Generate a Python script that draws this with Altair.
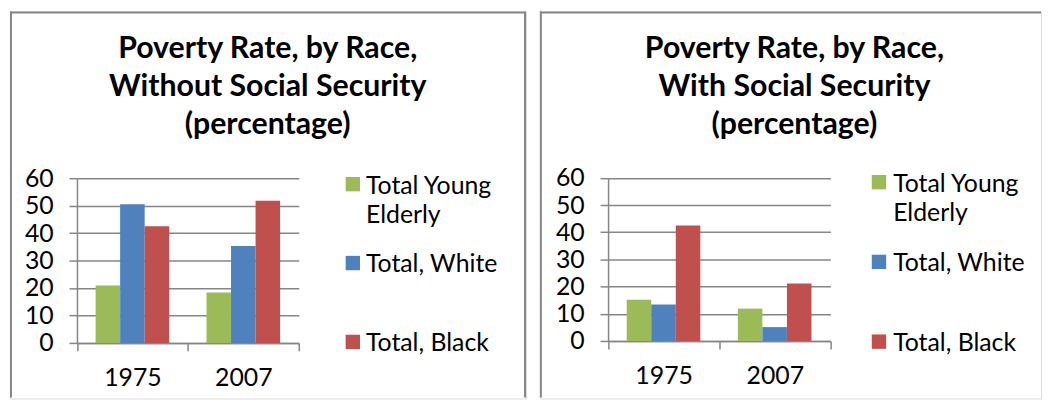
import altair as alt
import pandas as pd

# ---- data ----
years = ["1975", "2007"]
series = ["Total Young Elderly", "Total, White", "Total, Black"]
series_labels = ["Total Young\nElderly", "Total, White", "Total, Black"]
colors = ["#9BBB59", "#4F81BD", "#C0504D"]

without_young = [20.9, 18.4]
without_white = [50.5, 35.3]
without_black = [42.5, 51.8]

with_young = [15.2, 11.9]
with_white = [13.4, 5.1]
with_black = [42.5, 21.1]

y_ticks = [0, 10, 20, 30, 40, 50, 60]

title_without = ["Poverty Rate, by Race,", "Without Social Security", "(percentage)"]
title_with = ["Poverty Rate, by Race,", "With Social Security", "(percentage)"]


def bars_df(young, white, black):
    rows = []
    for vals, s in zip([young, white, black], series):
        for yr, v in zip(years, vals):
            rows.append({"year": yr, "series": s, "value": v})
    return pd.DataFrame(rows)


legend_df = pd.DataFrame({"series": series, "label": series_labels})
border_df = pd.DataFrame({"k": [0]})

FONT = "Lato"
GRAY = "#868686"
W1, W2, H = 520, 505, 390


def panel(df, title_lines, W, xr, yr, leg_x, leg_text_x, leg_y, title_x, right_border):
    color = alt.Color("series:N", scale=alt.Scale(domain=series, range=colors), legend=None)
    bars = alt.Chart(df).mark_bar().encode(
        x=alt.X(
            "year:N", sort=years, title=None,
            scale=alt.Scale(range=xr, paddingInner=0, paddingOuter=0),
            axis=alt.Axis(
                orient="bottom", offset=yr[0] - H, tickBand="extent", grid=False,
                domainColor=GRAY, domainWidth=1.5, tickColor=GRAY, tickWidth=1.5, tickSize=8,
                labelFont=FONT, labelFontSize=25, labelColor="black", labelPadding=15,
                labelAngle=0,
            ),
        ),
        xOffset=alt.XOffset(
            "series:N", sort=series,
            scale=alt.Scale(domain=series, paddingOuter=0.76, paddingInner=0),
        ),
        y=alt.Y(
            "value:Q", title=None,
            scale=alt.Scale(domain=[0, 60], range=[yr[0], yr[1]], nice=False, zero=True),
            axis=alt.Axis(
                offset=-xr[0], values=y_ticks, grid=True, gridColor=GRAY, gridWidth=1.5,
                domainColor=GRAY, domainWidth=1.5, tickColor=GRAY, tickWidth=1.5, tickSize=8,
                labelFont=FONT, labelFontSize=25, labelColor="black", labelPadding=16,
            ),
        ),
        color=color,
    )

    leg_scale = alt.Scale(type="point", domain=series, range=leg_y, padding=0)
    leg_sym = alt.Chart(legend_df).mark_square(size=210, opacity=1).encode(
        x=alt.value(leg_x),
        y=alt.Y("series:N", sort=series, scale=leg_scale, axis=None),
        color=color,
    )
    leg_txt = alt.Chart(legend_df).mark_text(
        align="left", baseline="top", dy=-10.5, font=FONT, fontSize=25,
        lineBreak="\n", lineHeight=30, color="black",
    ).encode(
        x=alt.value(leg_text_x),
        y=alt.Y("series:N", sort=series, scale=leg_scale, axis=None),
        text="label:N",
    )

    title_df = pd.DataFrame({"t": ["\n".join(title_lines)]})
    title = alt.Chart(title_df).mark_text(
        align="center", baseline="top", font=FONT, fontSize=30.5, fontWeight="bold",
        lineBreak="\n", lineHeight=38.5, color="black",
    ).encode(x=alt.value(title_x), y=alt.value(22.5), text="t:N")

    rules = [
        alt.Chart(border_df).mark_rule(color=GRAY, strokeWidth=2).encode(
            x=alt.value(0), x2=alt.value(W), y=alt.value(1)),
        alt.Chart(border_df).mark_rule(color=GRAY, strokeWidth=2).encode(
            x=alt.value(1), y=alt.value(0), y2=alt.value(H - 1)),
    ]
    if right_border:
        rules.append(
            alt.Chart(border_df).mark_rule(color=GRAY, strokeWidth=2).encode(
                x=alt.value(W - 1), y=alt.value(0), y2=alt.value(H - 1)))

    return alt.layer(*rules, bars, leg_sym, leg_txt, title).resolve_scale(
        y="independent").properties(width=W, height=H)


left = panel(bars_df(without_young, without_white, without_black), title_without, W1,
             [67.5, 291], [334, 168], 345.5, 358.7, [174, 333], 259.7, True)
right = panel(bars_df(with_young, with_white, with_black), title_with, W2,
              [68.7, 292.7], [332, 167.7], 341.7, 356, [172, 332.7], 256.5, False)

chart = alt.hconcat(left, right, spacing=10).properties(
    padding=0,
).configure_view(strokeWidth=0, stroke="transparent").configure(background="white")

chart.save("out.html", embed_options={"renderer": "svg", "actions": False})
